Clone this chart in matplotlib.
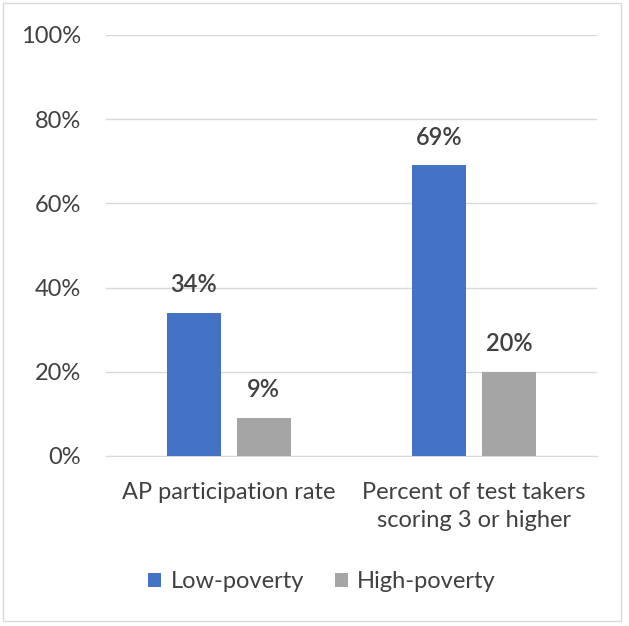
import matplotlib.pyplot as plt
import numpy as np
from matplotlib.patches import Rectangle

plt.rcParams['font.family'] = ['Lato', 'DejaVu Sans']

categories = ['AP participation rate', 'Percent of test takers\nscoring 3 or higher']
low_poverty = [34, 69]
high_poverty = [9, 20]
series_names = ['Low-poverty', 'High-poverty']
colors = ['#4472C4', '#A5A5A5']
text_color = '#404040'

fig = plt.figure(figsize=(6.29, 6.26), dpi=100)
ax = fig.add_axes([0.1685, 0.2716, 0.7806, 0.6725])

x = np.arange(len(categories))
w = 0.22
off = 0.143
b1 = ax.bar(x - off, low_poverty, w, color=colors[0], label=series_names[0], zorder=3)
b2 = ax.bar(x + off, high_poverty, w, color=colors[1], label=series_names[1], zorder=3)

for bars in (b1, b2):
    for b in bars:
        ax.annotate(f'{b.get_height():.0f}%', (b.get_x() + b.get_width() / 2, b.get_height()),
                    xytext=(0, 12), textcoords='offset points', ha='center', va='bottom',
                    fontsize=17, color=text_color, fontweight='semibold')

ax.set_xlim(-0.5, 1.5)
ax.set_ylim(0, 100)
ax.set_yticks(range(0, 101, 20))
ax.set_yticklabels([f'{v}%' for v in range(0, 101, 20)], fontsize=17, color=text_color)
ax.set_xticks(x)
ax.set_xticklabels(categories, fontsize=17, color=text_color, linespacing=1.38)
ax.tick_params(axis='both', length=0)
ax.tick_params(axis='y', pad=18)
ax.tick_params(axis='x', pad=19)
ax.grid(axis='y', color='#D9D9D9', linewidth=1, zorder=0)
for s in ['top', 'right', 'left']:
    ax.spines[s].set_visible(False)
ax.spines['bottom'].set_color('#D9D9D9')

fig.legend(loc='center', bbox_to_anchor=(0.512, 0.071), ncol=2, frameon=False,
           fontsize=17, handlelength=0.55, handleheight=0.55, columnspacing=1.3,
           handletextpad=0.4, labelcolor=text_color)

fig.patches.append(Rectangle((0.005, 0.008), 0.982, 0.987, transform=fig.transFigure,
                             fill=False, edgecolor='#D9D9D9', linewidth=1))

fig.savefig('out.png', dpi=100)
